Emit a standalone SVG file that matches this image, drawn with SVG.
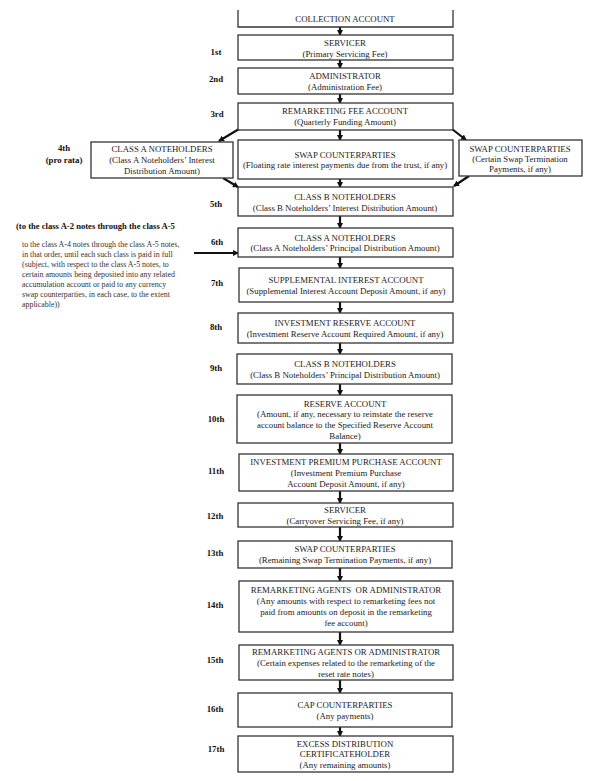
<svg xmlns="http://www.w3.org/2000/svg" width="599" height="781" viewBox="0 0 599 781">
<style>
text{font-family:"Liberation Serif","Times New Roman",serif;fill:#222;font-size:8.8px;text-anchor:middle}
.b{fill:#fff;stroke:#333;stroke-width:1.3}
.lbl{font-weight:bold;fill:#111}
.note{font-size:7.9px;text-anchor:start;fill:#333}
.hd{font-size:8.6px;font-weight:bold;text-anchor:start;fill:#111}
.c{stroke:#111;stroke-width:2.2;fill:none;marker-end:url(#ah)}
</style>
<defs>
<marker id="ah" markerWidth="6" markerHeight="6" refX="5" refY="3" orient="auto" markerUnits="userSpaceOnUse">
<path d="M0,0 L6,3 L0,6 z" fill="#111"/>
</marker>
</defs>

<g id="connectors">
<line class="c" x1="340" y1="27" x2="340" y2="35"/>
<line class="c" x1="340" y1="60" x2="340" y2="68"/>
<line class="c" x1="340" y1="94" x2="340" y2="103"/>
<line class="c" x1="340" y1="130" x2="340" y2="140"/>
<line class="c" x1="239" y1="129" x2="219" y2="141"/>
<line class="c" x1="452" y1="129" x2="466" y2="140"/>
<line class="c" x1="340" y1="179" x2="340" y2="187"/>
<line class="c" x1="223" y1="178" x2="238" y2="187"/>
<line class="c" x1="469" y1="176" x2="454" y2="186"/>
<line class="c" x1="340" y1="216" x2="340" y2="228"/>
<line class="c" x1="194" y1="253" x2="238" y2="253"/>
<line class="c" x1="340" y1="257" x2="340" y2="268"/>
<line class="c" x1="340" y1="302" x2="340" y2="313"/>
<line class="c" x1="340" y1="343" x2="340" y2="354"/>
<line class="c" x1="340" y1="384" x2="340" y2="395"/>
<line class="c" x1="340" y1="443" x2="340" y2="454"/>
<line class="c" x1="340" y1="491" x2="340" y2="503"/>
<line class="c" x1="340" y1="527" x2="340" y2="541"/>
<line class="c" x1="340" y1="568" x2="340" y2="581"/>
<line class="c" x1="340" y1="632" x2="340" y2="645"/>
<line class="c" x1="340" y1="680" x2="340" y2="693"/>
<line class="c" x1="340" y1="727" x2="340" y2="736"/>
</g>

<g id="collection">
<path d="M238,10 V27 H453 V10" fill="#fff" stroke="#333" stroke-width="1.3"/>
<text x="345" y="22">COLLECTION ACCOUNT</text>
</g>

<g id="n1">
<text class="lbl" x="216" y="55">1st</text>
<rect class="b" x="238" y="35" width="215" height="25"/>
<text x="345" y="46">SERVICER</text>
<text x="345" y="57">(Primary Servicing Fee)</text>
</g>

<g id="n2">
<text class="lbl" x="216" y="82">2nd</text>
<rect class="b" x="238" y="68" width="215" height="26"/>
<text x="345" y="79">ADMINISTRATOR</text>
<text x="345" y="90">(Administration Fee)</text>
</g>

<g id="n3">
<text class="lbl" x="217" y="117">3rd</text>
<rect class="b" x="238" y="103" width="215" height="27"/>
<text x="345" y="114">REMARKETING FEE ACCOUNT</text>
<text x="345" y="125">(Quarterly Funding Amount)</text>
</g>

<g id="n4a">
<text class="lbl" x="64" y="151">4th</text>
<text class="lbl" x="64" y="163">(pro rata)</text>
<rect class="b" x="91" y="142" width="142" height="36"/>
<text x="162" y="152">CLASS A NOTEHOLDERS</text>
<text x="162" y="163">(Class A Noteholders’ Interest</text>
<text x="162" y="174">Distribution Amount)</text>
</g>

<g id="n4b">
<rect class="b" x="238" y="140" width="215" height="39"/>
<text x="345" y="158">SWAP COUNTERPARTIES</text>
<text x="345" y="168">(Floating rate interest payments due from the trust, if any)</text>
</g>

<g id="n4c">
<rect class="b" x="459" y="140" width="123" height="36"/>
<text x="520" y="152">SWAP COUNTERPARTIES</text>
<text x="520" y="162">(Certain Swap Termination</text>
<text x="520" y="172">Payments, if any)</text>
</g>

<g id="n5">
<text class="lbl" x="216" y="207">5th</text>
<rect class="b" x="238" y="187" width="215" height="29"/>
<text x="345" y="200">CLASS B NOTEHOLDERS</text>
<text x="345" y="211">(Class B Noteholders’ Interest Distribution Amount)</text>
</g>

<g id="note">
<text class="hd" x="16" y="229">(to the class A-2 notes through the class A-5</text>
<text class="note" x="22" y="247">to the class A-4 notes through the class A-5 notes,</text>
<text class="note" x="22" y="257">in that order, until each such class is paid in full</text>
<text class="note" x="22" y="267">(subject, with respect to the class A-5 notes, to</text>
<text class="note" x="22" y="277">certain amounts being deposited into any related</text>
<text class="note" x="22" y="287">accumulation account or paid to any currency</text>
<text class="note" x="22" y="297">swap counterparties, in each case, to the extent</text>
<text class="note" x="22" y="307">applicable))</text>
</g>

<g id="n6">
<text class="lbl" x="217" y="245">6th</text>
<rect class="b" x="238" y="228" width="215" height="29"/>
<text x="345" y="241">CLASS A NOTEHOLDERS</text>
<text x="345" y="251">(Class A Noteholders’ Principal Distribution Amount)</text>
</g>

<g id="n7">
<text class="lbl" x="217" y="286">7th</text>
<rect class="b" x="239" y="268" width="214" height="34"/>
<text x="346" y="283">SUPPLEMENTAL INTEREST ACCOUNT</text>
<text x="346" y="294">(Supplemental Interest Account Deposit Amount, if any)</text>
</g>

<g id="n8">
<text class="lbl" x="216" y="330">8th</text>
<rect class="b" x="238" y="313" width="215" height="30"/>
<text x="345" y="326">INVESTMENT RESERVE ACCOUNT</text>
<text x="345" y="337">(Investment Reserve Account Required Amount, if any)</text>
</g>

<g id="n9">
<text class="lbl" x="216" y="371">9th</text>
<rect class="b" x="237" y="354" width="215" height="30"/>
<text x="345" y="367">CLASS B NOTEHOLDERS</text>
<text x="345" y="378">(Class B Noteholders’ Principal Distribution Amount)</text>
</g>

<g id="n10">
<text class="lbl" x="216" y="422">10th</text>
<rect class="b" x="237" y="395" width="215" height="48"/>
<text x="345" y="407">RESERVE ACCOUNT</text>
<text x="345" y="417">(Amount, if any, necessary to reinstate the reserve</text>
<text x="345" y="428">account balance to the Specified Reserve Account</text>
<text x="345" y="439">Balance)</text>
</g>

<g id="n11">
<text class="lbl" x="216" y="474">11th</text>
<rect class="b" x="239" y="454" width="214" height="37"/>
<text x="346" y="465">INVESTMENT PREMIUM PURCHASE ACCOUNT</text>
<text x="346" y="476">(Investment Premium Purchase</text>
<text x="346" y="487">Account Deposit Amount, if any)</text>
</g>

<g id="n12">
<text class="lbl" x="215" y="519">12th</text>
<rect class="b" x="238" y="503" width="215" height="24"/>
<text x="345" y="513">SERVICER</text>
<text x="345" y="524">(Carryover Servicing Fee, if any)</text>
</g>

<g id="n13">
<text class="lbl" x="215" y="556">13th</text>
<rect class="b" x="238" y="541" width="214" height="27"/>
<text x="345" y="552">SWAP COUNTERPARTIES</text>
<text x="345" y="563">(Remaining Swap Termination Payments, if any)</text>
</g>

<g id="n14">
<text class="lbl" x="215" y="608">14th</text>
<rect class="b" x="239" y="581" width="214" height="51"/>
<text x="346" y="593" xml:space="preserve">REMARKETING AGENTS  OR ADMINISTRATOR</text>
<text x="346" y="604">(Any amounts with respect to remarketing fees not</text>
<text x="346" y="615">paid from amounts on deposit in the remarketing</text>
<text x="346" y="626">fee account)</text>
</g>

<g id="n15">
<text class="lbl" x="215" y="663">15th</text>
<rect class="b" x="239" y="645" width="214" height="35"/>
<text x="346" y="655">REMARKETING AGENTS OR ADMINISTRATOR</text>
<text x="346" y="666">(Certain expenses related to the remarketing of the</text>
<text x="346" y="677">reset rate notes)</text>
</g>

<g id="n16">
<text class="lbl" x="215" y="712">16th</text>
<rect class="b" x="238" y="693" width="214" height="34"/>
<text x="345" y="708">CAP COUNTERPARTIES</text>
<text x="345" y="719">(Any payments)</text>
</g>

<g id="n17">
<text class="lbl" x="216" y="752">17th</text>
<rect class="b" x="238" y="736" width="215" height="36"/>
<text x="345" y="747">EXCESS DISTRIBUTION</text>
<text x="345" y="757">CERTIFICATEHOLDER</text>
<text x="345" y="768">(Any remaining amounts)</text>
</g>
</svg>
